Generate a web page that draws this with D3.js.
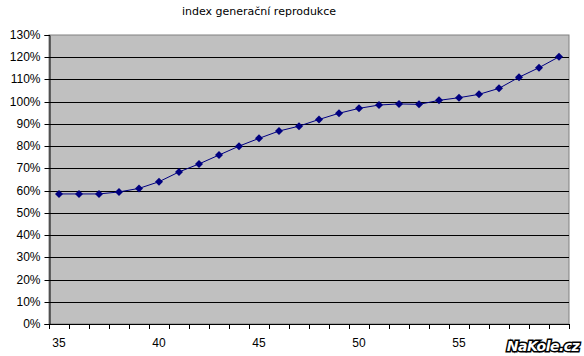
<!DOCTYPE html>
<html><head><meta charset="utf-8">
<script src="https://cdn.jsdelivr.net/npm/d3@7"></script>
<style>body{margin:0;background:#fff}svg{display:block}</style>
</head><body>
<svg id="c" width="584" height="356"></svg>
<script>
const titleText = "index generační reprodukce";
const ages = [35,36,37,38,39,40,41,42,43,44,45,46,47,48,49,50,51,52,53,54,55,56,57,58,59,60];
const values = [0.585,0.585,0.585,0.594,0.61,0.64,0.684,0.72,0.76,0.80,0.835,0.868,0.89,0.92,0.948,0.97,0.985,0.99,0.988,1.006,1.018,1.033,1.06,1.11,1.153,1.202];
const yTicks = [0,0.1,0.2,0.3,0.4,0.5,0.6,0.7,0.8,0.9,1.0,1.1,1.2,1.3];
const xLabels = [35,40,45,50,55];
const watermark = "NaKole.cz";

const svg = d3.select("#c");
const L = 49, R = 569, T = 35, B = 324;
const font = "Arial, 'Liberation Sans', sans-serif";

const x = d3.scaleBand().domain(ages).range([L, R]).paddingInner(0).paddingOuter(0);
const y = d3.scaleLinear().domain([0, 1.3]).range([B, T]);

svg.append("text").attr("x", 259).attr("y", 15).attr("text-anchor", "middle")
  .attr("font-family", "'DejaVu Sans', Verdana, sans-serif").attr("font-size", 11).attr("fill", "#000").text(titleText);

svg.append("rect").attr("x", L).attr("y", T).attr("width", R - L).attr("height", B - T)
  .attr("fill", "#c0c0c0").attr("stroke", "#808080").attr("stroke-width", 1);

svg.append("g").selectAll("line").data(yTicks.filter(d => d > 0 && d < 1.3)).join("line")
  .attr("x1", L).attr("x2", R)
  .attr("y1", d => Math.round(y(d)) + 0.5).attr("y2", d => Math.round(y(d)) + 0.5)
  .attr("stroke", "#000").attr("stroke-width", 1);

// Y axis
const yAxis = d3.axisLeft(y).tickValues(yTicks).tickSize(5).tickFormat(d => Math.round(d * 100) + "%");
const gy = svg.append("g").attr("transform", `translate(${L + 0.5},0)`).call(yAxis);
gy.select(".domain").attr("stroke", "#000");
gy.selectAll(".tick line").attr("stroke", "#000");
gy.selectAll(".tick").attr("transform", d => `translate(0,${Math.round(y(d)) + 0.5})`);
gy.selectAll("text").attr("font-family", font).attr("font-size", 12).attr("fill", "#000").attr("x", -9);

// X axis: ticks at category boundaries
const xg = svg.append("g");
xg.append("line").attr("x1", L).attr("x2", R + 0.5).attr("y1", B + 0.5).attr("y2", B + 0.5).attr("stroke", "#000");
const bounds = ages.map(a => x(a)).concat([R]);
xg.selectAll("line.t").data(bounds).join("line").attr("class", "t")
  .attr("x1", d => Math.round(d) + 0.5).attr("x2", d => Math.round(d) + 0.5)
  .attr("y1", B).attr("y2", B + 5).attr("stroke", "#000");
xg.selectAll("text").data(xLabels).join("text")
  .attr("x", d => x(d) + x.bandwidth() / 2).attr("y", 347)
  .attr("text-anchor", "middle").attr("font-family", font).attr("font-size", 12).attr("fill", "#000")
  .text(d => d);

// Line
const line = d3.line().x((d, i) => x(ages[i]) + x.bandwidth() / 2).y(d => y(d));
svg.append("path").datum(values).attr("d", line).attr("fill", "none").attr("stroke", "#000080").attr("stroke-width", 1);

// Diamond markers
svg.append("g").selectAll("path").data(values).join("path")
  .attr("transform", (d, i) => `translate(${x(ages[i]) + x.bandwidth() / 2},${y(d)})`)
  .attr("d", "M0,-4L4,0L0,4L-4,0Z").attr("fill", "#000080");

// Watermark
svg.append("text").attr("x", 543).attr("y", 351).attr("text-anchor", "middle")
  .attr("font-family", "Verdana, 'DejaVu Sans', sans-serif").attr("font-weight", "bold").attr("font-style", "italic")
  .attr("font-size", 14).attr("fill", "#fff").attr("stroke", "#000").attr("stroke-width", 3)
  .attr("paint-order", "stroke").attr("letter-spacing", -0.5).text(watermark);
</script>
</body></html>
